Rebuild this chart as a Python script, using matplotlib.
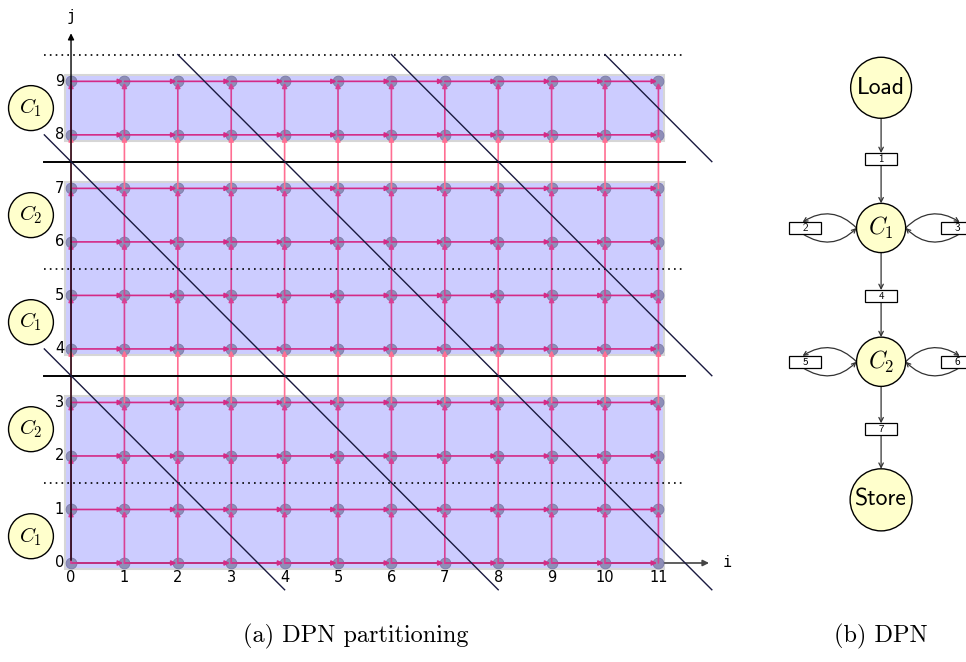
import numpy as np
import matplotlib.pyplot as plt
from matplotlib.patches import Rectangle, Circle, FancyArrowPatch

plt.rcParams['mathtext.fontset'] = 'cm'

# grid of iterations
n_i = 12
n_j = 10
bands = [(0, 3), (4, 7), (8, 9)]
band_labels = ['$C_1$', '$C_2$', '$C_1$', '$C_2$', '$C_1$']
label_rows = [0.5, 2.5, 4.5, 6.5, 8.5]
dotted_rows = [1.5, 5.5, 9.5]
solid_rows = [3.5, 7.5]
diag_consts = [3.5, 7.5, 11.5, 15.5, 19.5]

# DPN graph
dpn_nodes = ['Load', '$C_1$', '$C_2$', 'Store']
dpn_y = [8.88, 6.26, 3.76, 1.18]
dpn_r = [0.57, 0.46, 0.46, 0.58]
chan_main = ['1', '4', '7']
chan_main_y = [7.55, 4.99, 2.5]
chan_side = ['2', '3', '5', '6']
chan_side_y = [6.26, 6.26, 3.76, 3.76]
chan_side_dx = [-1.42, 1.42, -1.42, 1.42]

fig = plt.figure(figsize=(9.66, 6.62), dpi=100)
ax = fig.add_axes([0, 0, 1, 1])
ax.set_xlim(-1.33, 16.76)
ax.set_ylim(-1.85, 10.52)
ax.axis('off')

blue = '#ccccff'
red_in = '#d42a86'
red_out = '#ff6f93'
node_col = '#8e8eb8'

for j0, j1 in bands:
    ax.add_patch(Rectangle((-0.11, j0 - 0.12), 11.22, j1 - j0 + 0.24,
                           facecolor=blue, edgecolor='#d6d6d6', lw=1.5, zorder=1))

# edges of the dependence graph
for i in range(n_i):
    for j in range(n_j):
        if i + 1 < n_i:
            ax.add_patch(FancyArrowPatch((i, j), (i + 1, j), arrowstyle='-|>',
                                         mutation_scale=7, color=red_in, lw=1.2,
                                         shrinkA=0, shrinkB=1, zorder=3))
        if j + 1 < n_j:
            inside = any(j0 <= j and j + 1 <= j1 for j0, j1 in bands)
            c = '#d84094' if inside else red_out
            ax.add_patch(FancyArrowPatch((i, j), (i, j + 1), arrowstyle='-|>',
                                         mutation_scale=7, color=c, lw=1.2,
                                         shrinkA=0, shrinkB=1, zorder=3))

ii, jj = np.meshgrid(np.arange(n_i), np.arange(n_j))
ax.scatter(ii.ravel(), jj.ravel(), s=60, color=node_col, edgecolor='#7a7aa8',
           lw=0.6, zorder=2.5)

# axes
ax.annotate('', xy=(12.0, 0), xytext=(0, 0),
            arrowprops=dict(arrowstyle='-|>', color='#444444', lw=1.2,
                            mutation_scale=9), zorder=2)
ax.annotate('', xy=(0, 9.95), xytext=(0, 0),
            arrowprops=dict(arrowstyle='-|>', color='black', lw=1.0,
                            mutation_scale=9), zorder=4)
ax.text(12.2, 0, 'i', family='DejaVu Sans Mono', fontsize=11, va='center')
ax.text(0, 10.22, 'j', family='DejaVu Sans Mono', fontsize=11, ha='center', va='center')
for i in range(n_i):
    ax.text(i, -0.28, str(i), ha='center', va='center', fontsize=10.5)
for j in range(n_j):
    ax.text(-0.13, j, str(j), ha='right', va='center', fontsize=10.5)

for y in dotted_rows:
    ax.plot([-0.5, 11.5], [y, y], color='black', ls=(0, (1, 2.5)), lw=1.2, zorder=4)
for y in solid_rows:
    ax.plot([-0.5, 11.5], [y, y], color='black', lw=1.4, zorder=4)

for c in diag_consts:
    x0 = max(-0.5, c - 9.5)
    x1 = min(12.0, c + 0.5)
    ax.plot([x0, x1], [c - x0, c - x1], color='#1a1a40', lw=1.0, zorder=4)

for lab, y in zip(band_labels, label_rows):
    ax.add_patch(Circle((-0.75, y), 0.42, facecolor='#ffffcc', edgecolor='black',
                        lw=1.0, zorder=5))
    ax.text(-0.75, y, lab, ha='center', va='center', fontsize=15, zorder=6)

# DPN graph
cx = 15.17
for lab, y, r in zip(dpn_nodes, dpn_y, dpn_r):
    ax.add_patch(Circle((cx, y), r, facecolor='#ffffcc', edgecolor='black',
                        lw=1.0, zorder=5))
    if lab.startswith('$'):
        ax.text(cx, y, lab, ha='center', va='center', fontsize=17, zorder=6)
    else:
        ax.text(cx, y, lab, ha='center', va='center', fontsize=17,
                family='cmss10', zorder=6)

bw, bh = 0.6, 0.22
for lab, y in zip(chan_main, chan_main_y):
    ax.add_patch(Rectangle((cx - bw / 2, y - bh / 2), bw, bh, facecolor='white',
                           edgecolor='black', lw=0.9, zorder=5))
    ax.text(cx, y, lab, ha='center', va='center', fontsize=8, family='cmss10', zorder=6)

# straight channels
for k, y in enumerate(chan_main_y):
    ya = dpn_y[k] - dpn_r[k]
    yb = dpn_y[k + 1] + dpn_r[k + 1]
    ax.add_patch(FancyArrowPatch((cx, ya), (cx, y + bh / 2), arrowstyle='->',
                                 mutation_scale=8, color='#333333', lw=0.9,
                                 shrinkA=0, shrinkB=0, zorder=4))
    ax.add_patch(FancyArrowPatch((cx, y - bh / 2), (cx, yb), arrowstyle='->',
                                 mutation_scale=8, color='#333333', lw=0.9,
                                 shrinkA=0, shrinkB=0, zorder=4))

# self loops through side channels
for lab, y, dx in zip(chan_side, chan_side_y, chan_side_dx):
    bx = cx + dx
    ax.add_patch(Rectangle((bx - bw / 2, y - bh / 2), bw, bh, facecolor='white',
                           edgecolor='black', lw=0.9, zorder=5))
    ax.text(bx, y, lab, ha='center', va='center', fontsize=8, family='cmss10', zorder=6)
    s = np.sign(dx)
    edge = (cx + s * 0.46, y)
    top = (bx + s * 0.05, y + bh / 2)
    bot = (bx + s * 0.05, y - bh / 2)
    rad = -0.4 * s
    ax.add_patch(FancyArrowPatch(edge, top, connectionstyle='arc3,rad=%.2f' % rad,
                                 arrowstyle='->', mutation_scale=7, color='#333333',
                                 lw=0.9, shrinkA=0, shrinkB=0, zorder=4))
    ax.add_patch(FancyArrowPatch(bot, edge, connectionstyle='arc3,rad=%.2f' % rad,
                                 arrowstyle='->', mutation_scale=7, color='#333333',
                                 lw=0.9, shrinkA=0, shrinkB=0, zorder=4))

ax.text(5.33, -1.38, '(a) DPN partitioning', ha='center', va='center',
        fontsize=17.5, family='cmr10')
ax.text(15.17, -1.38, '(b) DPN', ha='center', va='center',
        fontsize=17.5, family='cmr10')

fig.savefig('out.png', dpi=100)
